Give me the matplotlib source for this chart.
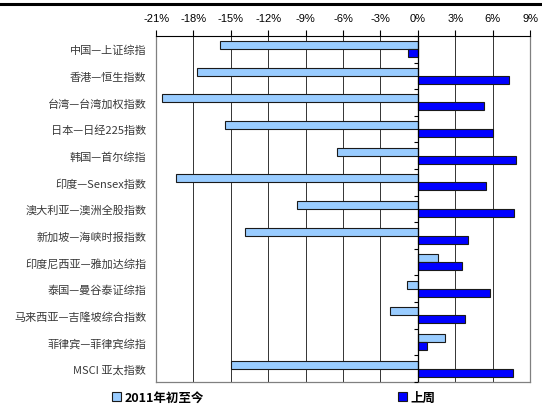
import matplotlib
matplotlib.use("Agg")
import matplotlib.pyplot as plt
import matplotlib.ticker as mticker
from matplotlib.lines import Line2D
from matplotlib.patches import Patch
import numpy as np

plt.rcParams['font.family'] = ['Noto Sans CJK SC', 'DejaVu Sans']

categories = ["中国—上证综指", "香港—恒生指数", "台湾—台湾加权指数", "日本—日经225指数",
              "韩国—首尔综指", "印度—Sensex指数", "澳大利亚—澳洲全股指数", "新加坡—海峡时报指数",
              "印度尼西亚—雅加达综指", "泰国—曼谷泰证综指", "马来西亚—吉隆坡综合指数",
              "菲律宾—菲律宾综指", "MSCI 亚太指数"]
ytd = [-15.9, -17.7, -20.5, -15.5, -6.5, -19.4, -9.7, -13.9, 1.6, -0.9, -2.2, 2.2, -15.0]
last_week = [-0.8, 7.3, 5.3, 6.0, 7.9, 5.5, 7.7, 4.0, 3.5, 5.8, 3.8, 0.7, 7.6]
xticks = list(range(-21, 10, 3))

LIGHT = "#99CCFF"
DARK = "#0000FF"
EDGE = "#1a1a1a"

fig = plt.figure(figsize=(5.42, 4.10), dpi=100)
ax = fig.add_axes([0.288, 0.066, 0.690, 0.844])

y = np.arange(len(categories))
h = 0.3
ax.barh(y - h / 2, ytd, h, color=LIGHT, edgecolor=EDGE, linewidth=0.8, zorder=3)
ax.barh(y + h / 2, last_week, h, color=DARK, edgecolor=EDGE, linewidth=0.8, zorder=3)

ax.set_xlim(-21, 9)
ax.set_ylim(len(categories) - 0.5, -0.5)
ax.set_xticks(xticks)
ax.xaxis.set_major_formatter(mticker.FuncFormatter(lambda v, _: f"{v:.0f}%"))
ax.xaxis.tick_top()
ax.tick_params(axis="x", direction="out", length=4, width=0.8, pad=5,
               labelsize=8, colors="black")
for lbl in ax.get_xticklabels():
    lbl.set_family(["Liberation Sans", "DejaVu Sans"])
ax.grid(axis="x", color="#333333", linewidth=0.7, zorder=1)

ax.set_yticks(y)
ax.set_yticklabels(categories, fontsize=8, color="#3a3a3a")
ax.tick_params(axis="y", length=0, pad=7)

for s in ["left", "right", "bottom"]:
    ax.spines[s].set_color("#808080")
    ax.spines[s].set_linewidth(0.9)
ax.spines["top"].set_color("black")
ax.spines["top"].set_linewidth(0.8)

ax.axvline(0, color="black", linewidth=0.9, zorder=4)

# category axis at 0 with small ticks between groups
ax2 = ax.twinx()
ax2.set_ylim(ax.get_ylim())
ax2.spines["right"].set_position(("data", 0))
for s in ["left", "top", "bottom", "right"]:
    ax2.spines[s].set_visible(False)
ax2.set_yticks(np.arange(len(categories) + 1) - 0.5)
ax2.tick_params(axis="y", direction="in", length=3, width=0.8, labelright=False)

fig.add_artist(Line2D([0, 1], [0.988, 0.988], color="black", linewidth=2.2,
                      transform=fig.transFigure))

handles = [Patch(facecolor=LIGHT, edgecolor=EDGE, linewidth=0.8),
           Patch(facecolor=DARK, edgecolor=EDGE, linewidth=0.8)]
fig.legend(handles, ["2011年初至今", "上周"], loc="center", bbox_to_anchor=(0.505, 0.029),
           ncol=2, frameon=False, handlelength=0.7, handleheight=0.7, handletextpad=0.3,
           columnspacing=15.5, prop=dict(size=9, weight="bold"))

fig.savefig("out.png", dpi=100)
